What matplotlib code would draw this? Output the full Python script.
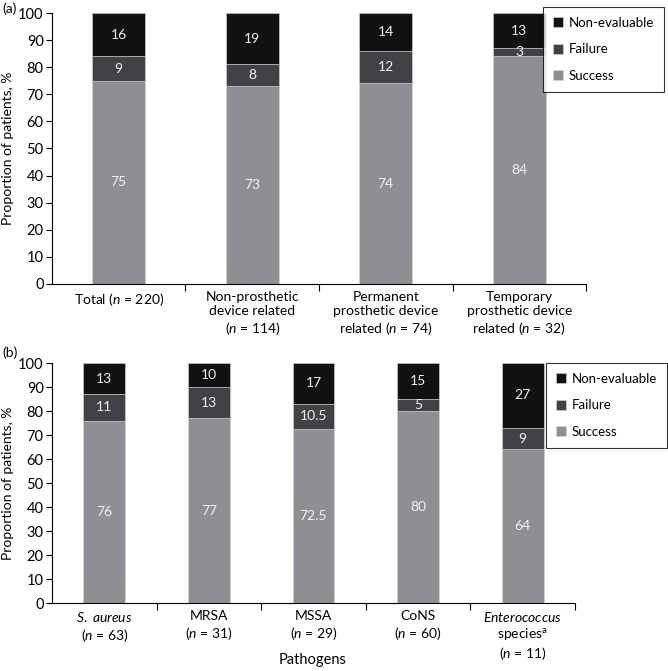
import matplotlib
matplotlib.use("Agg")
import matplotlib.pyplot as plt
import numpy as np

# panel (a): device type
cats_a = ["Total ($n$ = 220)",
          "Non-prosthetic\ndevice related\n($n$ = 114)",
          "Permanent\nprosthetic device\nrelated ($n$ = 74)",
          "Temporary\nprosthetic device\nrelated ($n$ = 32)"]
success_a = [75, 73, 74, 84]
failure_a = [9, 8, 12, 3]
noneval_a = [16, 19, 14, 13]

# panel (b): pathogens
cats_b = [r"$\mathit{S.\ aureus}$" + "\n($n$ = 63)",
          "MRSA\n($n$ = 31)",
          "MSSA\n($n$ = 29)",
          "CoNS\n($n$ = 60)",
          r"$\mathit{Enterococcus}$" + "\nspecies$^{\\mathrm{a}}$\n($n$ = 11)"]
success_b = [76, 77, 72.5, 80, 64]
failure_b = [11, 13, 10.5, 5, 9]
noneval_b = [13, 10, 17, 15, 27]

colors = {"Success": "#8d8f93", "Failure": "#414246", "Non-evaluable": "#111111"}

plt.rcParams['font.family'] = ['Lato', 'DejaVu Sans']
plt.rcParams['mathtext.fontset'] = 'custom'
plt.rcParams['mathtext.rm'] = 'Lato'
plt.rcParams['mathtext.it'] = 'Lato:italic'
plt.rcParams['font.size'] = 10

fig = plt.figure(figsize=(6.68, 6.71), dpi=100)


def fmt(v):
    return f"{v:g}"


def draw_panel(ax, cats, success, failure, noneval):
    n = len(cats)
    x = np.arange(n) + 0.5
    w = 0.4
    bottoms = np.zeros(n)
    for name, vals in [("Success", success), ("Failure", failure),
                       ("Non-evaluable", noneval)]:
        vals = np.array(vals, dtype=float)
        ax.bar(x, vals, w, bottom=bottoms, color=colors[name], label=name,
               edgecolor="#d8d8d8", linewidth=0.4)
        for xi, b, v in zip(x, bottoms, vals):
            ax.text(xi, b + v / 2, fmt(v), ha="center", va="center",
                    color="#f2f2f2", fontsize=10)
        bottoms += vals
    ax.set_xlim(0, n)
    ax.set_ylim(0, 100)
    ax.set_yticks(range(0, 101, 10))
    ax.set_xticks(np.arange(1, n + 1))
    ax.set_xticklabels([])
    ax.set_xticks(x, minor=True)
    ax.set_xticklabels(cats, minor=True, fontsize=10)
    ax.tick_params(axis="x", which="minor", length=0, pad=5)
    ax.tick_params(axis="x", which="major", length=5, direction="out")
    ax.tick_params(axis="y", length=4, labelsize=10.5, pad=2)
    for s in ["top", "right"]:
        ax.spines[s].set_visible(False)
    ax.spines["left"].set_linewidth(0.8)
    ax.spines["bottom"].set_linewidth(0.8)
    ax.set_ylabel("Proportion of patients, %", fontsize=10)
    return ax


ax1 = fig.add_axes([0.0778, 0.5768, 0.7995, 0.4038])
draw_panel(ax1, cats_a, success_a, failure_a, noneval_a)
ax1.yaxis.set_label_coords(-38 / 534, 0.5)
ax2 = fig.add_axes([0.0778, 0.1013, 0.783, 0.3577])
draw_panel(ax2, cats_b, success_b, failure_b, noneval_b)
ax2.yaxis.set_label_coords(-38 / 523, 0.5)
fig.text(313 / 668, 1 - 660 / 671, "Pathogens", ha="center", va="center",
         fontsize=10.5)

for ax, right, top in [(ax1, 0.994, 0.9896), (ax2, 0.998, 0.459)]:
    h, l = ax.get_legend_handles_labels()
    leg = fig.legend(h[::-1], l[::-1], loc="upper right",
                     bbox_to_anchor=(right, top), frameon=True, fancybox=False,
                     edgecolor="black", fontsize=9.5, handlelength=0.8,
                     handleheight=0.8, handletextpad=0.4, labelspacing=1.1,
                     borderpad=0.75, borderaxespad=0)
    leg.get_frame().set_linewidth(0.8)

fig.text(0.004, 0.997, "(a)", fontsize=10, va="top")
fig.text(0.004, 0.483, "(b)", fontsize=10, va="top")

fig.savefig("out.png", dpi=100)
